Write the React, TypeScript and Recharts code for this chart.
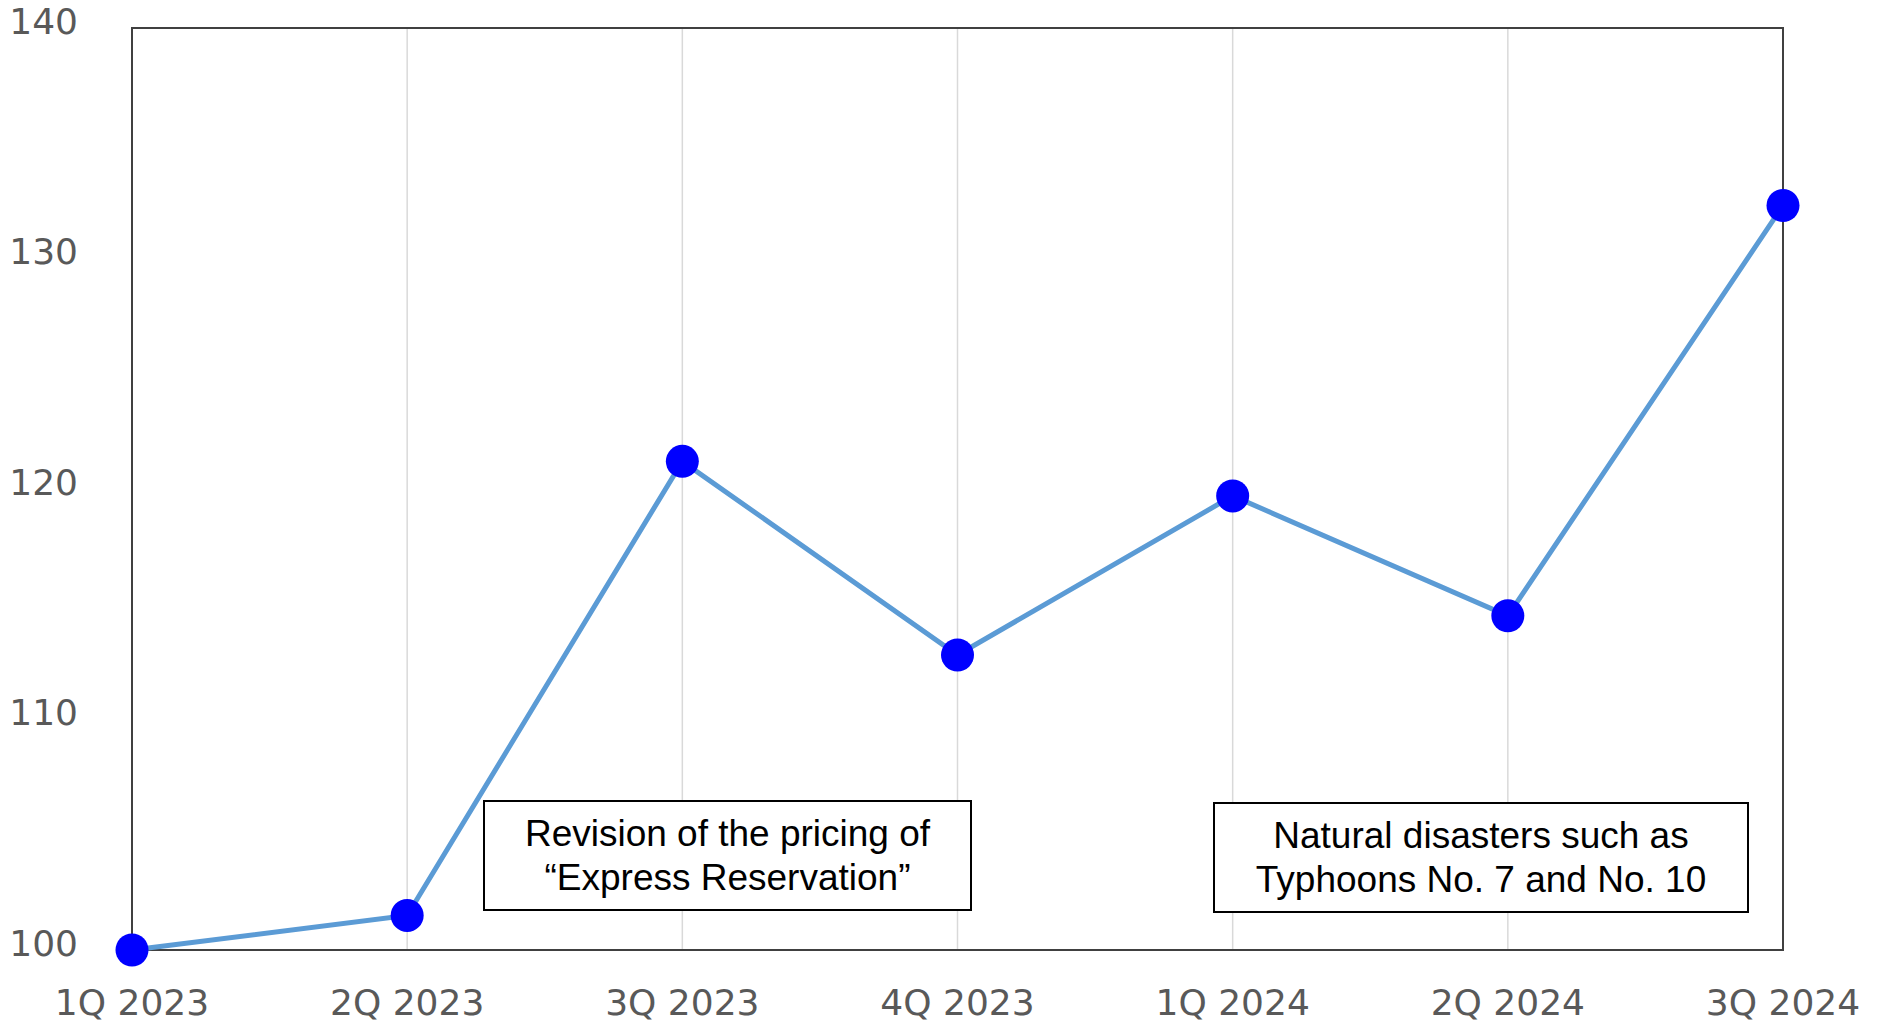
import React from 'react';
import {
  LineChart,
  Line,
  XAxis,
  YAxis,
  CartesianGrid,
  ReferenceArea
} from 'recharts';

// Quarter labels along the x axis
const QUARTERS = ['1Q 2023', '2Q 2023', '3Q 2023', '4Q 2023', '1Q 2024', '2Q 2024', '3Q 2024'];

// Index values (1Q 2023 = 100)
const INDEX_VALUES = [100, 101.5, 121.2, 112.8, 119.7, 114.5, 132.3];

const Y_TICKS = [100, 110, 120, 130, 140];

const COLORS = {
  line: '#5B9BD5',
  dot: '#0000FF',
  grid: '#D9D9D9',
  frame: '#404040',
  tickText: '#595959'
};

const data = QUARTERS.map((quarter, i) => ({ quarter, value: INDEX_VALUES[i] }));

const TICK_FONT = '"DejaVu Sans", Verdana, sans-serif';

const YTick = ({ x, y, payload }: any) => (
  <text
    x={x}
    y={y - 7}
    textAnchor="end"
    dominantBaseline="central"
    fill={COLORS.tickText}
    fontSize={36}
    fontFamily={TICK_FONT}
  >
    {payload.value}
  </text>
);

const XTick = ({ x, y, payload }: any) => (
  <text
    x={x}
    y={y + 52}
    textAnchor="middle"
    dominantBaseline="central"
    fill={COLORS.tickText}
    fontSize={36}
    fontFamily={TICK_FONT}
  >
    {payload.value}
  </text>
);

// Annotation box drawn over the chart
const Note = ({ left, top, width, height, lines }: any) => (
  <div
    style={{
      position: 'absolute',
      left,
      top,
      width,
      height,
      boxSizing: 'border-box',
      border: '2px solid #000',
      background: '#fff',
      display: 'flex',
      flexDirection: 'column',
      justifyContent: 'center',
      alignItems: 'center',
      fontFamily: '"Liberation Sans", Arial, sans-serif',
      fontSize: 37,
      lineHeight: '44px',
      color: '#000',
      whiteSpace: 'nowrap'
    }}
  >
    {lines.map((l: string, i: number) => (
      <div key={i}>{l}</div>
    ))}
  </div>
);

export default function App() {
  return (
    <div style={{ position: 'absolute', left: 0, top: 0, width: 1879, height: 1023, background: '#fff' }}>
      <LineChart
        width={1879}
        height={1023}
        data={data}
        margin={{ top: 28, right: 96, left: 0, bottom: 0 }}
      >
        <CartesianGrid horizontal={false} stroke={COLORS.grid} strokeWidth={1.5} />
        <XAxis
          dataKey="quarter"
          height={73}
          axisLine={false}
          tickLine={false}
          tickSize={0}
          tickMargin={0}
          interval={0}
          tick={<XTick />}
        />
        <YAxis
          domain={[100, 140]}
          ticks={Y_TICKS}
          width={132}
          axisLine={false}
          tickLine={false}
          tickSize={0}
          tickMargin={54}
          tick={<YTick />}
        />
        <ReferenceArea
          x1={QUARTERS[0]}
          x2={QUARTERS[QUARTERS.length - 1]}
          y1={100}
          y2={140}
          fill="none"
          fillOpacity={0}
          stroke={COLORS.frame}
          strokeWidth={2}
          ifOverflow="visible"
        />
        <Line
          dataKey="value"
          type="linear"
          stroke={COLORS.line}
          strokeWidth={5}
          dot={{ r: 16.5, fill: COLORS.dot, stroke: 'none' }}
          activeDot={false}
          isAnimationActive={false}
        />
      </LineChart>
      <Note
        left={483}
        top={800}
        width={489}
        height={111}
        lines={['Revision of the pricing of', '\u201cExpress Reservation\u201d']}
      />
      <Note
        left={1213}
        top={802}
        width={536}
        height={111}
        lines={['Natural disasters such as', 'Typhoons No. 7 and No. 10']}
      />
    </div>
  );
}
